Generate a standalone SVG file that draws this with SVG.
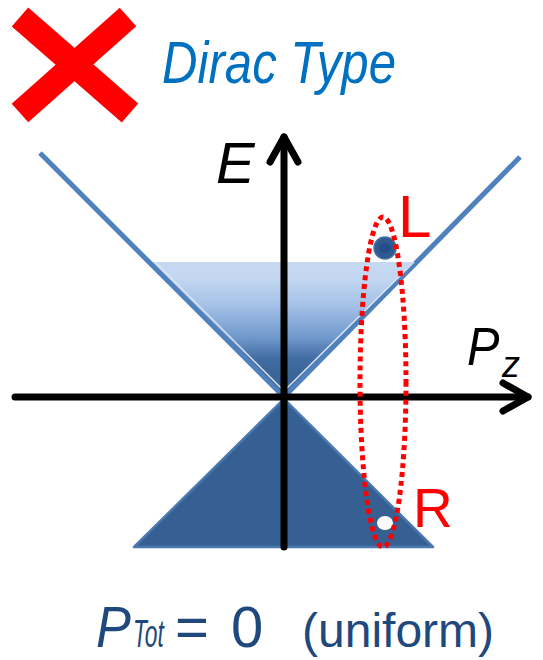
<svg xmlns="http://www.w3.org/2000/svg" width="543" height="660" viewBox="0 0 543 660">
<style>
.ax{stroke:#000;stroke-width:7;fill:none;stroke-linecap:round;stroke-linejoin:round}
.cone{stroke:#4f81bd;stroke-width:5;fill:none}
.sans{font-family:"Liberation Sans","DejaVu Sans",sans-serif}
.red{fill:#ff0000}
.navy{fill:#1f497d}
</style>
<defs>
<linearGradient id="g" x1="0" y1="262" x2="0" y2="397" gradientUnits="userSpaceOnUse">
<stop offset="0" stop-color="#c6d9f1"/>
<stop offset="0.13" stop-color="#c2d6f0"/>
<stop offset="0.33" stop-color="#a2c0e7"/>
<stop offset="0.56" stop-color="#6f98cc"/>
<stop offset="0.72" stop-color="#416ca1"/>
<stop offset="1" stop-color="#345c8e"/>
</linearGradient>
</defs>
<g id="cross">
<line x1="20" y1="17" x2="130" y2="113" stroke="#ff0000" stroke-width="25"/>
<line x1="128" y1="17" x2="20" y2="113" stroke="#ff0000" stroke-width="25"/>
</g>
<g id="title">
<text x="162" y="83" class="sans" font-style="italic" font-size="60" fill="#0070c0" textLength="234" lengthAdjust="spacingAndGlyphs">Dirac Type</text>
</g>
<g id="upper-cone">
<polygon points="149,262 420,262 284,397" fill="url(#g)"/>
<line class="cone" x1="40" y1="153" x2="286" y2="399"/>
<line class="cone" x1="520" y1="157" x2="282" y2="399"/>
<line x1="155" y1="262" x2="284" y2="391" stroke="#dce6f2" stroke-width="1.5"/>
<line x1="414" y1="262" x2="284" y2="391" stroke="#dce6f2" stroke-width="1.5"/>
</g>
<g id="lower-cone">
<polygon points="284,399 433,547 134,547" fill="#376092" stroke="#4a78b0" stroke-width="2.5" stroke-linejoin="round"/>
</g>
<g id="connectors">
<line class="ax" x1="284" y1="547" x2="284" y2="137"/>
<polyline class="ax" points="270,162 284,137 298,162"/>
<line class="ax" x1="15" y1="397" x2="528" y2="397"/>
<polyline class="ax" points="503,383 528,397 503,411"/>
</g>
<g id="axis-labels">
<text x="216" y="183" class="sans" font-style="italic" font-size="58" fill="#000">E</text>
<text transform="translate(467,365) scale(0.9,1)" class="sans" font-style="italic" font-size="54" fill="#000">P</text>
<text x="502" y="377" class="sans" font-style="italic" font-size="36" fill="#000">z</text>
</g>
<g id="L-state">
<circle cx="385" cy="248" r="11" fill="#2f5a8f" stroke="#4572a8" stroke-width="1.5"/>
<ellipse cx="385" cy="248" rx="6" ry="5" fill="#244e85"/>
<text x="398" y="237" class="sans red" font-size="60">L</text>
</g>
<g id="R-state">
<ellipse cx="385" cy="523" rx="8" ry="7" fill="#fff"/>
<text x="413" y="527" class="sans red" font-size="55">R</text>
</g>
<g id="pair-loop">
<ellipse cx="383" cy="382" rx="23" ry="165" fill="none" stroke="#ff0000" stroke-width="5" stroke-dasharray="5 4"/>
</g>
<g id="caption">
<text transform="translate(96,647) scale(0.9,1)" class="sans navy" font-style="italic" font-size="58">P</text>
<text transform="translate(133,647) scale(0.6,1)" class="sans navy" font-style="italic" font-size="38">Tot</text>
<text x="175" y="647" class="sans navy" font-size="58">=</text>
<text x="231" y="647" class="sans navy" font-size="58">0</text>
<text x="302" y="647" class="sans navy" font-size="48">(uniform)</text>
</g>
</svg>
